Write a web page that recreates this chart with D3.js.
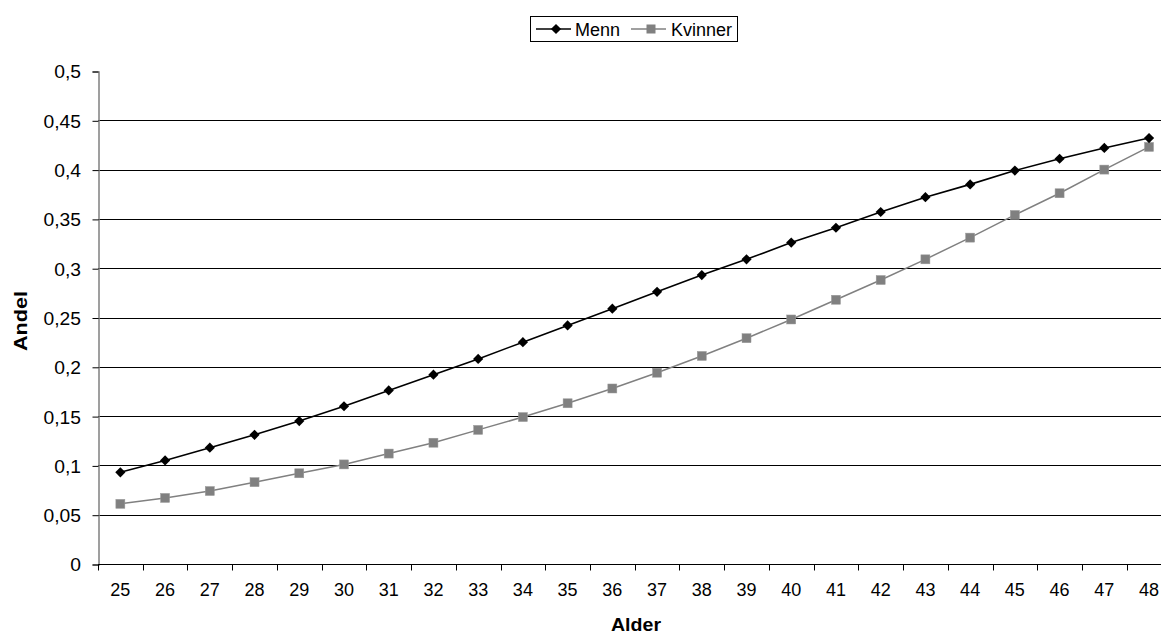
<!DOCTYPE html>
<html>
<head>
<meta charset="utf-8">
<script src="https://cdn.jsdelivr.net/npm/d3@7"></script>
<style>
  html, body { margin: 0; padding: 0; background: #fff; }
  svg { display: block; font-family: "Liberation Sans", Arial, sans-serif; }
</style>
</head>
<body>
<svg id="chart" width="1161" height="634"></svg>
<script>
// Age groups on the x axis
const ages = ["25","26","27","28","29","30","31","32","33","34","35","36","37","38","39","40","41","42","43","44","45","46","47","48"];
// Share (andel) by age
const menn = [0.093,0.105,0.118,0.131,0.145,0.160,0.176,0.192,0.208,0.225,0.242,0.259,0.276,0.293,0.309,0.326,0.341,0.357,0.372,0.385,0.399,0.411,0.422,0.432];
const kvinner = [0.061,0.067,0.074,0.083,0.092,0.101,0.112,0.123,0.136,0.149,0.163,0.178,0.194,0.211,0.229,0.248,0.268,0.288,0.309,0.331,0.354,0.376,0.400,0.423];
const yTicks = [0,0.05,0.1,0.15,0.2,0.25,0.3,0.35,0.4,0.45,0.5];
const yTickLabels = ["0","0,05","0,1","0,15","0,2","0,25","0,3","0,35","0,4","0,45","0,5"];

const svg = d3.select("#chart");
const plotLeft = 98, plotRight = 1171.4, plotTop = 71, plotBottom = 564;
const fontSize = 18;

const x = d3.scaleBand().domain(ages).range([plotLeft, plotRight]);
const y = d3.scaleLinear().domain([0, 0.5]).range([plotBottom, plotTop]);

// horizontal gridlines (none at the top value)
svg.append("g")
  .selectAll("line")
  .data(yTicks.filter(v => v > 0 && v < 0.5))
  .join("line")
  .attr("x1", plotLeft).attr("x2", plotRight)
  .attr("y1", d => Math.round(y(d)) + 0.5).attr("y2", d => Math.round(y(d)) + 0.5)
  .attr("stroke", "#000").attr("stroke-width", 1);

// y axis
const yAxis = d3.axisLeft(y)
  .tickValues(yTicks)
  .tickFormat((d, i) => yTickLabels[i])
  .tickSize(6).tickPadding(10);
const gy = svg.append("g").attr("transform", `translate(${plotLeft + 0.5},0.5)`).call(yAxis);
gy.select(".domain").attr("stroke", "#808080").attr("stroke-width", 1.5);
gy.selectAll(".tick line").attr("stroke", "#000");
gy.selectAll(".tick text").attr("font-size", fontSize).attr("fill", "#000")
  .attr("font-family", "'Liberation Sans', Arial, sans-serif").attr("dy", "0.36em")
  .attr("x", -17.5 / 1.07).attr("transform", "scale(1.07,1)");

// x axis
const xTickPos = d3.scaleLinear().domain([0, ages.length]).range([plotLeft, plotRight]);
const xAxis = d3.axisBottom(x).tickSize(0).tickPadding(19);
const gx = svg.append("g").attr("transform", `translate(0,${plotBottom + 0.5})`).call(xAxis);
gx.select(".domain").remove();
gx.append("line").attr("x1", plotLeft).attr("x2", plotRight).attr("stroke", "#000");
gx.selectAll(".tick text").attr("font-size", fontSize).attr("fill", "#000")
  .attr("font-family", "'Liberation Sans', Arial, sans-serif");
gx.append("g").selectAll("line")
  .data(d3.range(ages.length + 1))
  .join("line")
  .attr("x1", d => Math.round(xTickPos(d)) + 0.5).attr("x2", d => Math.round(xTickPos(d)) + 0.5)
  .attr("y1", 0).attr("y2", 6).attr("stroke", "#000");

// axis titles
svg.append("text")
  .attr("x", 636).attr("y", 631)
  .attr("text-anchor", "middle").attr("font-weight", "bold").attr("font-size", 19)
  .attr("textLength", 50).attr("lengthAdjust", "spacingAndGlyphs")
  .text("Alder");
svg.append("text")
  .attr("transform", "translate(27,321) rotate(-90)")
  .attr("text-anchor", "middle").attr("font-weight", "bold").attr("font-size", 19)
  .attr("textLength", 60).attr("lengthAdjust", "spacingAndGlyphs")
  .text("Andel");

const cx = d => x(d) + x.bandwidth() / 2;
const line = d3.line().x((d, i) => cx(ages[i])).y(d => y(d));
// diamond marker: a square turned 45 degrees
const diamond = d3.symbol().type(d3.symbolSquare).size(52);

// Kvinner series
svg.append("path").datum(kvinner).attr("d", line)
  .attr("fill", "none").attr("stroke", "#808080").attr("stroke-width", 1.5);
svg.append("g").selectAll("rect").data(kvinner).join("rect")
  .attr("x", (d, i) => cx(ages[i]) - 4.5).attr("y", d => y(d) - 4.5)
  .attr("width", 9).attr("height", 9)
  .attr("fill", "#808080").attr("stroke", "#9a9a9a").attr("stroke-width", 0.5);

// Menn series
svg.append("path").datum(menn).attr("d", line)
  .attr("fill", "none").attr("stroke", "#000").attr("stroke-width", 1.6);
svg.append("g").selectAll("path").data(menn).join("path")
  .attr("transform", (d, i) => `translate(${cx(ages[i])},${y(d)}) rotate(45)`)
  .attr("d", diamond).attr("fill", "#000");

// legend
const lg = svg.append("g");
lg.append("rect").attr("x", 530.5).attr("y", 16.5).attr("width", 207).attr("height", 25)
  .attr("fill", "#fff").attr("stroke", "#000");
lg.append("line").attr("x1", 536).attr("x2", 571).attr("y1", 29).attr("y2", 29)
  .attr("stroke", "#000").attr("stroke-width", 1.6);
lg.append("path").attr("transform", "translate(556,29) rotate(45)").attr("d", diamond).attr("fill", "#000");
lg.append("text").attr("x", 575).attr("y", 35.5).attr("font-size", fontSize).text("Menn");
lg.append("line").attr("x1", 631).attr("x2", 666).attr("y1", 29).attr("y2", 29)
  .attr("stroke", "#808080").attr("stroke-width", 1.5);
lg.append("rect").attr("x", 646.5).attr("y", 24.5).attr("width", 9).attr("height", 9)
  .attr("fill", "#808080");
lg.append("text").attr("x", 671).attr("y", 35.5).attr("font-size", fontSize).text("Kvinner");
</script>
</body>
</html>
